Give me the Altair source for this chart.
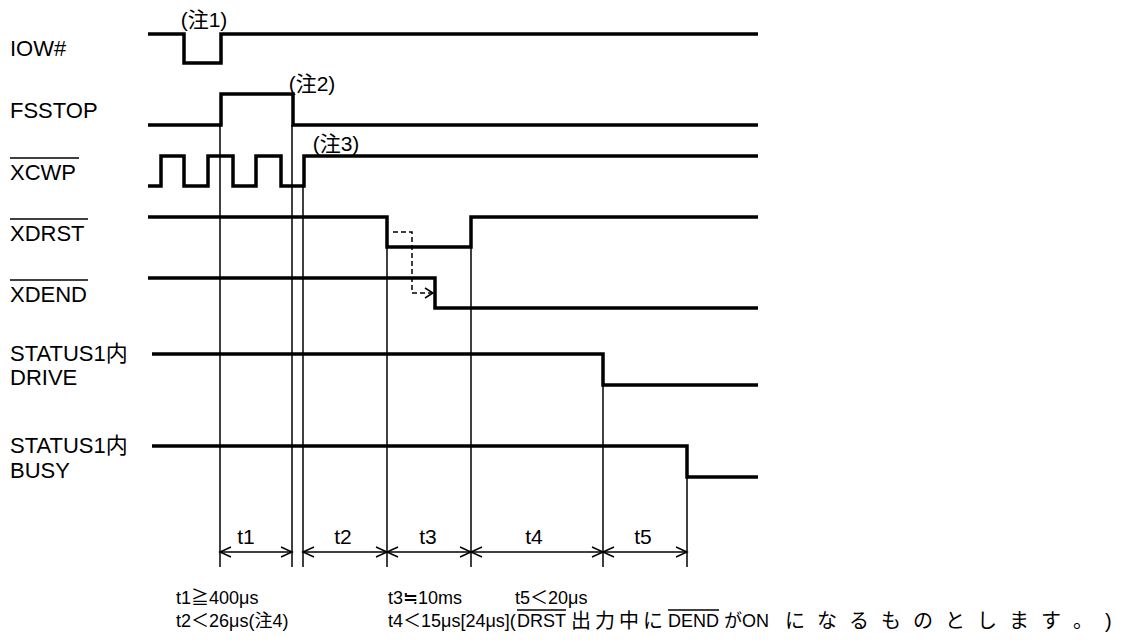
import altair as alt
import pandas as pd

# ---------------- data: timing of each signal ----------------
SIGNALS = ["IOW#", "FSSTOP", "XCWP", "XDRST", "XDEND", "DRIVE", "BUSY"]
EDGES = {
    "IOW#":   [148, 184, 221, 758],
    "FSSTOP": [148, 221, 293, 758],
    "XCWP":   [148, 161, 184, 208, 233, 256, 281, 304, 758],
    "XDRST":  [148, 387, 471, 758],
    "XDEND":  [148, 435, 758],
    "DRIVE":  [152, 603, 758],
    "BUSY":   [152, 687, 758],
}
LEVELS = {
    "IOW#":   [1, 0, 1],
    "FSSTOP": [0, 1, 0],
    "XCWP":   [0, 1, 0, 1, 0, 1, 0, 1],
    "XDRST":  [1, 0, 1],
    "XDEND":  [1, 0],
    "DRIVE":  [1, 0],
    "BUSY":   [1, 0],
}

# timing reference lines and the row they drop from
MARK_X = [220, 292, 303, 387, 471, 603, 687]
MARK_FROM = ["FSSTOP", "FSSTOP", "XCWP", "XDRST", "XDRST", "DRIVE", "BUSY"]

# intervals
INTERVALS = ["t1", "t2", "t3", "t4", "t5"]
INT_START = [220, 303, 387, 471, 603]
INT_END = [292, 387, 471, 603, 687]

# dashed cause arrow (XDRST -> XDEND)
DASH_X = [393, 412, 412, 433]
DASH_ROW = ["XDRST", "XDRST", "XDEND", "XDEND"]

# texts
ROW_LABELS = ["IOW#", "FSSTOP", "XCWP", "XDRST", "XDEND", "STATUS1内", "DRIVE", "STATUS1内", "BUSY"]
OVERLINED_LABELS = ["XCWP", "XDRST", "XDEND"]
NOTES = ["(注1)", "(注2)", "(注3)"]
FOOT_LINE1 = ["t1≧400μs", "t3≒10ms", "t5＜20μs"]
FOOT_LINE2 = ["t2＜26μs(注4)", "t4＜15μs[24μs](", "DRST", "DEND", "がON"]
FOOT_OVERLINED = ["DRST", "DEND"]
FOOT_SPACED = ["出力中に", "になるものとします。)"]

# ---------------- layout ----------------
HIGH_Y = {"IOW#": 34, "FSSTOP": 94, "XCWP": 156, "XDRST": 217, "XDEND": 278, "DRIVE": 354, "BUSY": 446}
LOW_Y = {"IOW#": 63, "FSSTOP": 125, "XCWP": 186, "XDRST": 247, "XDEND": 308, "DRIVE": 385, "BUSY": 477}
LABEL_X = 10
LABEL_Y = [49, 111, 173, 234, 295, 354, 378, 446, 471]
LABEL_OVER_END = {"XCWP": 79, "XDRST": 88, "XDEND": 88}
NOTE_XY = [(204, 21), (312, 85), (336, 145)]
MARK_BOTTOM = 567
DIM_Y = 552
TLABEL_X = [246, 343, 428, 534, 643]
TLABEL_Y = 538
HEAD_L, HEAD_H = 11, 5
FOOT1_X = [176, 388, 515]
FOOT2_X = [176, 388, 517, 668, 724]
FOOT_OVER_W = {"DRST": 49, "DEND": 51}
FOOT_SPACED_X0 = [571, 785]
FOOT_SPACED_PITCH = [24, 32]
FOOT1_Y, FOOT2_Y = 599, 622
FOOT_SIZE = 18
SPACED_SIZE = 20

FONT = "Liberation Sans, Arial, Noto Sans CJK JP"

XS = alt.Scale(domain=[8, 1114], nice=False, zero=False)
YS = alt.Scale(domain=[8, 634], reverse=True, nice=False, zero=False)


def X():
    return alt.X("x:Q", scale=XS, axis=None)


def Y():
    return alt.Y("y:Q", scale=YS, axis=None)


# signal polylines
rows = []
for s in SIGNALS:
    e, lv = EDGES[s], LEVELS[s]
    k = 0
    for i, L in enumerate(lv):
        yy = HIGH_Y[s] if L else LOW_Y[s]
        rows.append(dict(sig=s, k=k, x=e[i], y=yy)); k += 1
        rows.append(dict(sig=s, k=k, x=e[i + 1], y=yy)); k += 1
sig_df = pd.DataFrame(rows)
signals = alt.Chart(sig_df).mark_line(color="black", strokeWidth=3.5, strokeJoin="miter", strokeCap="butt").encode(
    x=X(), y=Y(), detail="sig:N", order="k:Q")

# vertical timing lines
mk_df = pd.DataFrame({"x": MARK_X, "y": [LOW_Y[r] for r in MARK_FROM], "y2": [MARK_BOTTOM] * len(MARK_X)})
marks = alt.Chart(mk_df).mark_rule(color="black", strokeWidth=1.5).encode(x=X(), y=Y(), y2="y2:Q")

# dimension lines
dim_df = pd.DataFrame({"x": INT_START, "x2": INT_END, "y": [DIM_Y] * 5})
dims = alt.Chart(dim_df).mark_rule(color="black", strokeWidth=1.5).encode(x=X(), x2="x2:Q", y=Y())

# arrowheads
hrows = []
hid = 0
for s, e in zip(INT_START, INT_END):
    for tip, d in ((s, 1), (e, -1)):
        pts = [(tip + d * HEAD_L, DIM_Y - HEAD_H), (tip, DIM_Y), (tip + d * HEAD_L, DIM_Y + HEAD_H)]
        for k, (px, py) in enumerate(pts):
            hrows.append(dict(h=hid, k=k, x=px, y=py))
        hid += 1
# dashed arrow head
tipx, tipy = DASH_X[-1], (HIGH_Y[DASH_ROW[-1]] + LOW_Y[DASH_ROW[-1]]) / 2
for k, (px, py) in enumerate([(tipx - 8, tipy - 5), (tipx, tipy), (tipx - 8, tipy + 5)]):
    hrows.append(dict(h=hid, k=k, x=px, y=py))
heads = alt.Chart(pd.DataFrame(hrows)).mark_line(color="black", strokeWidth=1.5).encode(
    x=X(), y=Y(), detail="h:N", order="k:Q")

# dashed arrow
dash_df = pd.DataFrame({"k": range(4), "x": DASH_X,
                        "y": [(HIGH_Y[r] + LOW_Y[r]) / 2 for r in DASH_ROW]})
dash = alt.Chart(dash_df).mark_line(color="black", strokeWidth=1.5, strokeDash=[5, 3]).encode(
    x=X(), y=Y(), order="k:Q")

# row labels
lab_df = pd.DataFrame({"x": [LABEL_X] * len(ROW_LABELS), "y": LABEL_Y, "t": ROW_LABELS})
labels = alt.Chart(lab_df).mark_text(align="left", baseline="middle", fontSize=22, font=FONT, color="black").encode(
    x=X(), y=Y(), text="t:N")
ov_rows = []
for t in OVERLINED_LABELS:
    yy = LABEL_Y[ROW_LABELS.index(t)] - 15
    ov_rows.append(dict(x=LABEL_X, x2=LABEL_OVER_END[t], y=yy))
overl = alt.Chart(pd.DataFrame(ov_rows)).mark_rule(color="black", strokeWidth=1.5).encode(x=X(), x2="x2:Q", y=Y())

# notes
note_df = pd.DataFrame({"x": [p[0] for p in NOTE_XY], "y": [p[1] for p in NOTE_XY], "t": NOTES})
notes = alt.Chart(note_df).mark_text(align="center", baseline="middle", fontSize=21, font=FONT, color="black").encode(
    x=X(), y=Y(), text="t:N")

# interval labels
tl_df = pd.DataFrame({"x": TLABEL_X, "y": [TLABEL_Y] * 5, "t": INTERVALS})
tlabels = alt.Chart(tl_df).mark_text(align="center", baseline="middle", fontSize=21, font=FONT, color="black").encode(
    x=X(), y=Y(), text="t:N")

# footnotes
frows = []
for t, x in zip(FOOT_LINE1, FOOT1_X):
    frows.append(dict(x=x, y=FOOT1_Y, t=t))
for t, x in zip(FOOT_LINE2, FOOT2_X):
    frows.append(dict(x=x, y=FOOT2_Y, t=t))
foot = alt.Chart(pd.DataFrame(frows)).mark_text(align="left", baseline="middle", fontSize=FOOT_SIZE, font=FONT,
                                                 color="black").encode(x=X(), y=Y(), text="t:N")
srows = []
for txt, x0, p in zip(FOOT_SPACED, FOOT_SPACED_X0, FOOT_SPACED_PITCH):
    for i, ch in enumerate(txt):
        srows.append(dict(x=x0 + i * p, y=FOOT2_Y, t=ch))
spaced = alt.Chart(pd.DataFrame(srows)).mark_text(align="left", baseline="middle", fontSize=SPACED_SIZE, font=FONT,
                                                   color="black").encode(x=X(), y=Y(), text="t:N")
fo_rows = []
for t in FOOT_OVERLINED:
    x0 = FOOT2_X[FOOT_LINE2.index(t)]
    fo_rows.append(dict(x=x0, x2=x0 + FOOT_OVER_W[t], y=FOOT2_Y - 12))
foot_ov = alt.Chart(pd.DataFrame(fo_rows)).mark_rule(color="black", strokeWidth=1.5).encode(x=X(), x2="x2:Q", y=Y())

chart = alt.layer(signals, marks, dims, heads, dash, labels, overl, notes, tlabels, foot, spaced, foot_ov).properties(
    width=1106, height=626, autosize=alt.AutoSizeParams(type="none"), padding=0, background="white"
).configure_view(stroke=None)

chart.save("out.html", embed_options={"renderer": "svg", "actions": False})
